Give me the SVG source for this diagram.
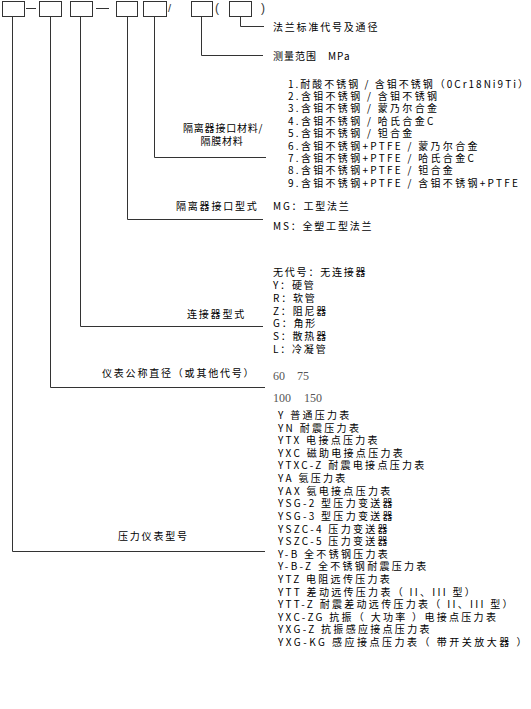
<svg xmlns="http://www.w3.org/2000/svg" width="531" height="709" viewBox="0 0 531 709">
<style>
.t{font-family:"Noto Sans CJK SC","Noto Sans",sans-serif;font-size:10px;fill:#000;letter-spacing:1.8px}
.w{letter-spacing:2.3px}
.n{font-family:"Liberation Serif",serif;font-size:12px;fill:#555}
.b{fill:#fff;stroke:#333;stroke-width:1}
.l{fill:none;stroke:#333;stroke-width:1}
</style>
<rect width="531" height="709" fill="#fff"/>
<g id="code">
<rect class="b" x="2.5" y="1.5" width="22" height="15"/>
<rect class="b" x="39.5" y="1.5" width="22" height="15"/>
<rect class="b" x="70.5" y="1.5" width="22" height="15"/>
<rect class="b" x="116.5" y="1.5" width="21" height="15"/>
<rect class="b" x="143.5" y="1.5" width="23" height="15"/>
<rect class="b" x="191.5" y="1.5" width="21" height="15"/>
<rect class="b" x="229.5" y="1.5" width="22" height="15"/>
<path class="l" d="M26 8.5H36M96 8.5H109"/>
<text x="168" y="12" style="font-family:'Liberation Sans',sans-serif;font-size:11px;fill:#333">/</text>
<text x="215" y="12" style="font-family:'Liberation Sans',sans-serif;font-size:12px;fill:#333">(</text>
<text x="261" y="12" style="font-family:'Liberation Sans',sans-serif;font-size:12px;fill:#333">)</text>
</g>
<g id="connectors">
<path class="l" d="M240.5 16V26.5H264"/>
<path class="l" d="M201.5 16V55.5H263"/>
<path class="l" d="M154.5 16V157.5H266"/>
<path class="l" d="M127.5 16V219.5H263"/>
<path class="l" d="M80.5 16V326.5H263"/>
<path class="l" d="M50.5 16V387.5H265"/>
<path class="l" d="M12.5 16V551.5H265"/>
</g>
<g id="flange">
<text class="t" x="273" y="31">法兰标准代号及通径</text>
</g>
<g id="range">
<text class="t" x="273" y="60" style="letter-spacing:1px">测量范围<tspan x="328">MPa</tspan></text>
</g>
<g id="material">
<text class="t" x="183" y="132" style="letter-spacing:0.8px">隔离器接口材料/</text>
<text class="t" x="222" y="145" text-anchor="middle" style="letter-spacing:0.8px">隔膜材料</text>
<text class="t" x="288" y="88" style="letter-spacing:2px">1.耐酸不锈钢 / 含钼不锈钢（0Cr18Ni9Ti）</text>
<text class="t w" x="288" y="100">2.含钼不锈钢 / 含钼不锈钢</text>
<text class="t w" x="288" y="112">3.含钼不锈钢 / 蒙乃尔合金</text>
<text class="t w" x="288" y="125">4.含钼不锈钢 / 哈氏合金C</text>
<text class="t w" x="288" y="137">5.含钼不锈钢 / 钽合金</text>
<text class="t w" x="288" y="150">6.含钼不锈钢+PTFE / 蒙乃尔合金</text>
<text class="t w" x="288" y="162">7.含钼不锈钢+PTFE / 哈氏合金C</text>
<text class="t w" x="288" y="174">8.含钼不锈钢+PTFE / 钽合金</text>
<text class="t w" x="288" y="187">9.含钼不锈钢+PTFE / 含钼不锈钢+PTFE</text>
</g>
<g id="interface">
<text class="t" x="176" y="210">隔离器接口型式</text>
<text class="t" x="273" y="210">MG：工型法兰</text>
<text class="t" x="273" y="230">MS：全塑工型法兰</text>
</g>
<g id="connector-type">
<text class="t" x="187" y="318">连接器型式</text>
<text class="t" x="273" y="276">无代号：无连接器</text>
<text class="t" x="273" y="289">Y：硬管</text>
<text class="t" x="273" y="302">R：软管</text>
<text class="t" x="273" y="315">Z：阻尼器</text>
<text class="t" x="273" y="327">G：角形</text>
<text class="t" x="273" y="340">S：散热器</text>
<text class="t" x="273" y="353">L：冷凝管</text>
</g>
<g id="diameter">
<text class="t" x="102" y="377">仪表公称直径（或其他代号）</text>
<text class="n" x="273" y="380">60<tspan x="297">75</tspan></text>
<text class="n" x="273" y="402">100<tspan x="304">150</tspan></text>
</g>
<g id="model">
<text class="t" x="118" y="540">压力仪表型号</text>
<text class="t w" x="278" y="419">Y 普通压力表</text>
<text class="t w" x="278" y="431.5">YN 耐震压力表</text>
<text class="t w" x="278" y="444">YTX 电接点压力表</text>
<text class="t w" x="278" y="456.5">YXC 磁助电接点压力表</text>
<text class="t w" x="278" y="469">YTXC-Z 耐震电接点压力表</text>
<text class="t w" x="278" y="482">YA 氨压力表</text>
<text class="t w" x="278" y="494.5">YAX 氨电接点压力表</text>
<text class="t w" x="278" y="507">YSG-2 型压力变送器</text>
<text class="t w" x="278" y="520">YSG-3 型压力变送器</text>
<text class="t w" x="278" y="532.5">YSZC-4 压力变送器</text>
<text class="t w" x="278" y="545">YSZC-5 压力变送器</text>
<text class="t w" x="278" y="557.5">Y-B 全不锈钢压力表</text>
<text class="t w" x="278" y="570">Y-B-Z 全不锈钢耐震压力表</text>
<text class="t w" x="278" y="583">YTZ 电阻远传压力表</text>
<text class="t w" x="278" y="595.5">YTT 差动远传压力表（ II、III 型）</text>
<text class="t w" x="278" y="608">YTT-Z 耐震差动远传压力表（ II、III 型）</text>
<text class="t w" x="278" y="620.5">YXC-ZG 抗振（ 大功率 ）电接点压力表</text>
<text class="t w" x="278" y="633">YXG-Z 抗振感应接点压力表</text>
<text class="t" x="278" y="645.5" style="letter-spacing:2.5px">YXG-KG 感应接点压力表（ 带开关放大器 ）</text>
</g>
</svg>
